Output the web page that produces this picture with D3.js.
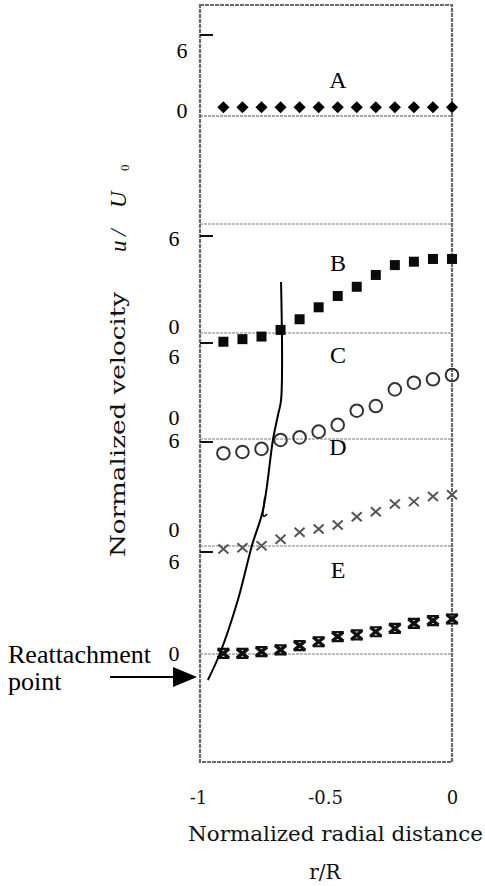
<!DOCTYPE html>
<html>
<head>
<meta charset="utf-8">
<script src="https://cdn.jsdelivr.net/npm/d3@7"></script>
<style>
  html, body { margin: 0; padding: 0; background: #ffffff; }
  svg { display: block; }
</style>
</head>
<body>
<svg id="chart" width="485" height="886"></svg>
<script>
// Radial positions of the measuring stations (r/R)
const radius = [-0.9, -0.825, -0.75, -0.675, -0.6, -0.525, -0.45, -0.375, -0.3, -0.225, -0.15, -0.075, 0];

// Normalized axial velocity u/U0 at each station, one profile per section
const profileA = [0.65, 0.65, 0.65, 0.65, 0.65, 0.65, 0.65, 0.65, 0.65, 0.65, 0.65, 0.65, 0.65];
const profileB = [-0.54, -0.38, -0.22, 0.19, 0.85, 1.59, 2.29, 2.86, 3.59, 4.2, 4.41, 4.58, 4.58];
const profileC = [-0.89, -0.81, -0.62, -0.06, 0.1, 0.46, 0.88, 1.77, 2.06, 3.1, 3.52, 3.73, 4.0];
const profileD = [-0.17, -0.1, 0.02, 0.39, 0.79, 0.98, 1.21, 1.69, 1.98, 2.42, 2.56, 2.85, 2.95];
const profileE = [0.04, 0.04, 0.14, 0.24, 0.49, 0.72, 1.02, 1.12, 1.31, 1.51, 1.8, 1.96, 2.06];

const sectionNames = ["A", "B", "C", "D", "E"];
const yTickValues = [0, 6];
const xTickValues = [-1, -0.5, 0];
const xTickLabels = ["-1", "-0.5", "0"];

const profiles = [profileA, profileB, profileC, profileD, profileE];

// ---- layout ----
const svg = d3.select("#chart");
const frame = { left: 200, right: 452, top: 5, bottom: 762 };

// Each section is stacked in its own strip: pixel rows of its 0 and 6 levels,
// plus where its tick numbers and section letter sit.
const strips = [
  { zero: 116, six: 35,  zeroText: 110, sixText: 50,  numX: 182, letterY: 80 },
  { zero: 333, six: 236, zeroText: 326, sixText: 238, numX: 174, letterY: 263 },
  { zero: 439, six: 343, zeroText: 417, sixText: 356, numX: 174, letterY: 355 },
  { zero: 546, six: 442, zeroText: 529, sixText: 440, numX: 174, letterY: 447 },
  { zero: 654, six: 552, zeroText: 653, sixText: 561, numX: 174, letterY: 570 }
];
const extraRule = 224;

const x = d3.scaleLinear().domain([-1, 0]).range([198, 452]);
const yScales = strips.map(s => d3.scaleLinear().domain([0, 6]).range([s.zero, s.six]));

const serif = "'Liberation Serif', 'Times New Roman', serif";
const bookSerif = "'DejaVu Serif', serif";

// ---- horizontal zero rules ----
const ruleG = svg.append("g");
strips.forEach((s, i) => {
  ruleG.append("line")
    .attr("x1", frame.left).attr("x2", frame.right)
    .attr("y1", yScales[i](0)).attr("y2", yScales[i](0))
    .attr("stroke", i === 0 ? "#8a8a8a" : "#a8a8a8")
    .attr("stroke-width", 1.6)
    .attr("stroke-dasharray", "3,1");
});
ruleG.append("line")
  .attr("x1", frame.left).attr("x2", frame.right)
  .attr("y1", extraRule).attr("y2", extraRule)
  .attr("stroke", "#a8a8a8").attr("stroke-width", 1.6)
  .attr("stroke-dasharray", "3,1");

// ---- frame ----
svg.append("rect")
  .attr("x", frame.left).attr("y", frame.top)
  .attr("width", frame.right - frame.left)
  .attr("height", frame.bottom - frame.top)
  .attr("fill", "none")
  .attr("stroke", "#6a6a6a")
  .attr("stroke-width", 2.2)
  .attr("stroke-dasharray", "4,1");

// ---- per-strip ticks and numbers ----
const tickG = svg.append("g");
strips.forEach((s, i) => {
  tickG.append("line")
    .attr("x1", frame.left).attr("x2", frame.left + 13)
    .attr("y1", yScales[i](6)).attr("y2", yScales[i](6))
    .attr("stroke", "#111").attr("stroke-width", 2);
  yTickValues.forEach(v => {
    tickG.append("text")
      .attr("x", s.numX)
      .attr("y", v === 0 ? s.zeroText : s.sixText)
      .attr("dy", "0.35em")
      .attr("text-anchor", "middle")
      .attr("font-family", serif)
      .attr("font-size", 22)
      .attr("fill", "#000")
      .text(String(v));
  });
  tickG.append("text")
    .attr("x", 338).attr("y", s.letterY)
    .attr("dy", "0.35em")
    .attr("text-anchor", "middle")
    .attr("font-family", serif)
    .attr("font-size", 24)
    .attr("fill", "#000")
    .text(sectionNames[i]);
});

// ---- markers ----
const markG = svg.append("g");
const diamond = d3.symbol().type(d3.symbolSquare).size(74)();
const square = d3.symbol().type(d3.symbolSquare).size(100)();

function drawProfile(i, draw) {
  const g = markG.append("g").attr("class", "profile-" + sectionNames[i]);
  profiles[i].forEach((v, k) => {
    const px = x(radius[k]), py = yScales[i](v);
    draw(g.append("g").attr("transform", `translate(${px},${py})`));
  });
}

// A: filled diamonds
drawProfile(0, g => g.append("path").attr("d", diamond)
  .attr("transform", "rotate(45)").attr("fill", "#000"));
// B: filled squares
drawProfile(1, g => g.append("path").attr("d", square).attr("fill", "#0a0a0a"));
// C: open circles
drawProfile(2, g => g.append("circle").attr("r", 6.3)
  .attr("fill", "none").attr("stroke", "#333").attr("stroke-width", 2));
// D: thin crosses
drawProfile(3, g => g.append("path")
  .attr("d", "M-5,-4.5L5,4.5M-5,4.5L5,-4.5")
  .attr("stroke", "#555").attr("stroke-width", 2).attr("fill", "none"));
// E: heavy bow-tie crosses
drawProfile(4, g => {
  g.append("path")
    .attr("d", "M-5.5,-4.5L5.5,4.5M-5.5,4.5L5.5,-4.5")
    .attr("stroke", "#111").attr("stroke-width", 3.4).attr("fill", "none");
  g.append("path")
    .attr("d", "M-6,-4.5H6M-6,4.5H6")
    .attr("stroke", "#111").attr("stroke-width", 2.2).attr("fill", "none");
});

// ---- reattachment line (r/R, page row) ----
const reattachTrace = [
  [-0.673, 282], [-0.673, 400], [-0.685, 415], [-0.705, 440], [-0.744, 510],
  [-0.787, 545], [-0.843, 600], [-0.913, 653], [-0.961, 680]
];
svg.append("path")
  .attr("d", d3.line().x(d => x(d[0])).y(d => d[1]).curve(d3.curveCatmullRom)(reattachTrace))
  .attr("fill", "none").attr("stroke", "#000").attr("stroke-width", 2);
svg.append("path")
  .attr("d", `M${x(-0.737)},497 L${x(-0.745)},513 Q${x(-0.745)},519 ${x(-0.728)},514`)
  .attr("fill", "none").attr("stroke", "#000").attr("stroke-width", 1.6);

// ---- reattachment annotation ----
svg.append("text").attr("x", 8).attr("y", 663)
  .attr("font-family", serif).attr("font-size", 26).attr("fill", "#000")
  .text("Reattachment");
svg.append("text").attr("x", 8).attr("y", 690)
  .attr("font-family", serif).attr("font-size", 26).attr("fill", "#000")
  .text("point");
svg.append("line").attr("x1", 110).attr("x2", 176).attr("y1", 677).attr("y2", 677)
  .attr("stroke", "#000").attr("stroke-width", 2.2);
svg.append("path").attr("d", "M173,667 L197,677 L173,687 Z").attr("fill", "#000");

// ---- x axis ----
const xAxis = d3.axisBottom(x)
  .tickValues(xTickValues)
  .tickSize(0)
  .tickFormat((d, i) => xTickLabels[i]);
const xg = svg.append("g").attr("transform", "translate(0,788)").call(xAxis);
xg.select(".domain").remove();
xg.selectAll("text")
  .attr("font-family", bookSerif)
  .attr("font-size", 18)
  .attr("fill", "#111")
  .attr("dy", "0.71em");

svg.append("text")
  .attr("x", 188).attr("y", 841)
  .attr("font-family", bookSerif).attr("font-size", 20).attr("fill", "#111")
  .attr("textLength", 295).attr("lengthAdjust", "spacingAndGlyphs")
  .text("Normalized radial distance");
svg.append("text")
  .attr("x", 325).attr("y", 879).attr("text-anchor", "middle")
  .attr("font-family", bookSerif).attr("font-size", 20).attr("fill", "#111")
  .text("r/R");

// ---- y axis title ----
svg.append("text")
  .attr("transform", "translate(125,557) rotate(-90)")
  .attr("font-family", bookSerif).attr("font-size", 21).attr("fill", "#111")
  .attr("textLength", 265).attr("lengthAdjust", "spacingAndGlyphs")
  .text("Normalized velocity");
const unitG = svg.append("g").attr("transform", "translate(126,0) rotate(-90)");
const unitParts = [
  { t: "u", at: -252 }, { t: "/", at: -236 }, { t: "U", at: -208 }
];
unitParts.forEach(p => {
  unitG.append("text").attr("x", p.at).attr("y", 0)
    .attr("font-family", serif).attr("font-style", "italic")
    .attr("font-size", 23).attr("fill", "#111").text(p.t);
});
unitG.append("text").attr("x", -171).attr("y", 3)
  .attr("font-family", serif).attr("font-size", 13).attr("fill", "#111")
  .text("0");
</script>
</body>
</html>
